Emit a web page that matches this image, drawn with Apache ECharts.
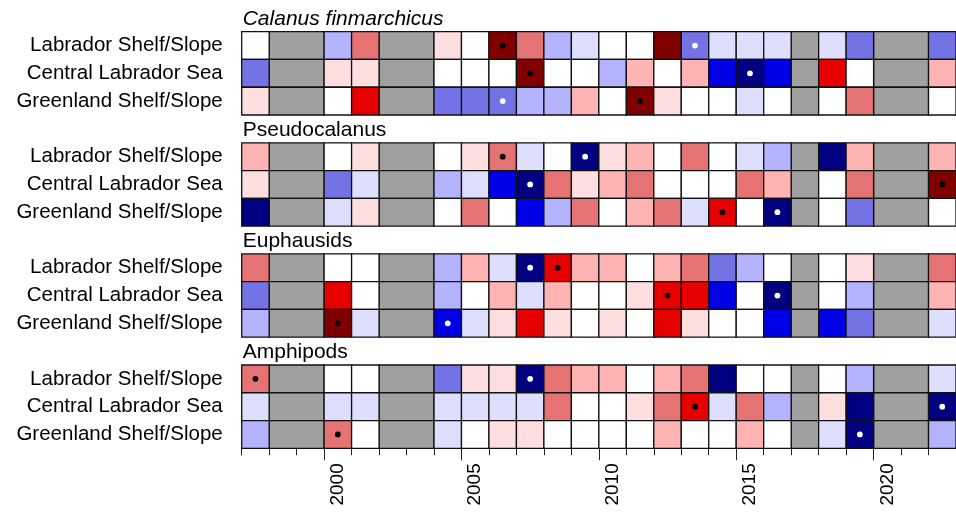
<!DOCTYPE html>
<html>
<head>
<meta charset="utf-8">
<script src="https://cdn.jsdelivr.net/npm/echarts@6/dist/echarts.min.js"></script>
<style>
  html, body { margin: 0; padding: 0; background: #ffffff; }
  #chart { width: 956px; height: 512px; }
</style>
</head>
<body>
<div id="chart"></div>
<script>
// Survey years (one column per year); null = no survey that year
const years = [1997, 1998, 1999, 2000, 2001, 2002, 2003, 2004, 2005, 2006, 2007, 2008, 2009,
               2010, 2011, 2012, 2013, 2014, 2015, 2016, 2017, 2018, 2019, 2020, 2021, 2022];

const regions = ['Labrador Shelf/Slope', 'Central Labrador Sea', 'Greenland Shelf/Slope'];
const taxa = ['Calanus finmarchicus', 'Pseudocalanus', 'Euphausids', 'Amphipods'];
const taxonItalic = [true, false, false, false];

// Standardized abundance anomalies, one row per region
const calanusAnomaly = [
  [0.1, null, null, -1.2, 1.7, null, null, 0.7, 0.2, 2.8, 1.7, -1.2, -0.7, -0.2, 0.3, 2.7, -1.8, -0.8, -0.6, -0.7, null, -0.8, -1.7, null, null, -1.8],
  [-1.7, null, null, 0.6, 0.8, null, null, 0.1, -0.3, 0.2, 3.1, 0.0, -0.1, -1.3, 1.2, 0.4, 1.1, -2.3, -2.9, -2.2, null, 2.3, -0.2, null, null, 1.3],
  [0.6, null, null, 0.3, 2.2, null, null, -1.6, -1.8, -1.9, -1.1, -1.4, 1.1, -0.1, 2.9, 0.7, 0.2, -0.3, -0.6, 0.1, null, 0.4, 1.8, null, null, -0.2]
];
const pseudocalanusAnomaly = [
  [1.3, null, null, 0.2, 0.8, null, null, -0.1, 0.6, 1.9, -0.7, 0.3, -2.7, 0.9, 1.2, -0.4, 1.6, 0.0, -0.8, -1.1, null, -2.6, 1.4, null, null, 1.2],
  [0.7, null, null, -1.7, -0.9, null, null, -1.2, -0.6, -2.4, -3.0, 1.6, 0.8, 1.3, 1.8, 0.3, -0.2, 0.1, 1.7, 1.1, null, -0.3, 1.9, null, null, 2.8],
  [-2.6, null, null, -0.7, 0.6, null, null, 0.2, 1.7, -0.1, -2.1, -1.2, 1.6, 0.4, 1.2, 1.8, -0.9, 2.4, 0.1, -2.8, null, -0.4, -1.6, null, null, 0.0]
];
const euphausidAnomaly = [
  [1.8, null, null, 0.1, -0.3, null, null, -1.3, 1.2, -0.8, -2.7, 2.3, 1.3, 1.1, -0.2, 1.4, 1.7, -1.6, -1.2, 0.2, null, -0.1, 0.7, null, null, 1.8],
  [-1.8, null, null, 2.3, 0.2, null, null, -1.1, 0.0, 1.2, -0.6, 1.4, -0.3, 0.1, 0.8, 2.4, 2.2, -2.2, 0.3, -2.9, null, -0.2, -1.3, null, null, 1.1],
  [-1.3, null, null, 2.7, -0.8, null, null, -2.3, -0.6, 0.9, 2.1, 0.7, 0.4, 0.6, -0.1, 2.2, 0.8, 0.0, 0.3, -2.1, null, -2.2, -1.7, null, null, -0.9]
];
const amphipodAnomaly = [
  [1.9, null, null, 0.2, -0.1, null, null, -1.7, 0.6, 0.9, -2.8, 1.6, 1.3, 1.2, 0.0, 1.4, 1.8, -2.6, -0.3, 0.1, null, 0.4, -1.1, null, null, -0.7],
  [-0.7, null, null, -0.6, -0.8, null, null, -0.9, -0.6, -0.7, -0.8, 1.7, 0.2, -0.1, 0.7, 1.6, 2.2, -0.6, 1.8, -1.2, null, 0.6, -2.6, null, null, -2.9],
  [-1.2, null, null, 1.8, 0.3, null, null, -0.7, 0.1, 0.8, 0.6, -0.2, 0.0, 0.2, -0.4, 1.1, 0.3, -0.1, 1.3, 0.4, null, -0.7, -2.8, null, null, -1.3]
];

// Years of the series maximum and minimum, flagged with a dot
const calanusExtremes = [[2006, 2013], [2007, 2015], [2006, 2011]];
const pseudocalanusExtremes = [[2006, 2009], [2007, 2022], [2014, 2016]];
const euphausidExtremes = [[2007, 2008], [2012, 2016], [2000, 2004]];
const amphipodExtremes = [[1997, 2007], [2013, 2022], [2000, 2019]];

const labelledYears = [2000, 2005, 2010, 2015, 2020];

// Anomaly classes: strong negative (dark blue) ... strong positive (dark red)
const anomalyBreaks = [-2.5, -2, -1.5, -1, -0.5, 0.5, 1, 1.5, 2, 2.5];
const anomalyColors = ['#000080', '#0000e6', '#7373e6', '#b3b3ff', '#dedeff', '#ffffff',
                       '#ffdee0', '#ffb3b3', '#e57373', '#e60000', '#800000'];
const missingColor = '#a0a0a0';

const anomalyTables = [calanusAnomaly, pseudocalanusAnomaly, euphausidAnomaly, amphipodAnomaly];
const extremeTables = [calanusExtremes, pseudocalanusExtremes, euphausidExtremes, amphipodExtremes];

// y categories: a blank heading row above each group of three regions
const rowLabels = [];
taxa.forEach(() => { rowLabels.push(''); regions.forEach(r => rowLabels.push(r)); });

const cellData = [];
const missingData = [];
const headingData = [];
anomalyTables.forEach((table, g) => {
  headingData.push([years[0], g * 4, g]);
  table.forEach((row, r) => {
    const rowIndex = g * 4 + 1 + r;
    let runStart = null;
    row.forEach((v, i) => {
      if (v === null) {
        if (runStart === null) runStart = years[i];
      } else {
        if (runStart !== null) { missingData.push([runStart, years[i], rowIndex]); runStart = null; }
        const flagged = extremeTables[g][r].indexOf(years[i]) >= 0 ? 1 : 0;
        cellData.push([years[i], rowIndex, v, flagged]);
      }
    });
    if (runStart !== null) missingData.push([runStart, years[years.length - 1] + 1, rowIndex]);
  });
});

const pieces = [];
for (let i = 0; i < anomalyColors.length; i++) {
  const p = { color: anomalyColors[i] };
  if (i > 0) { if (anomalyBreaks[i - 1] < 0) p.gte = anomalyBreaks[i - 1]; else p.gt = anomalyBreaks[i - 1]; }
  if (i < anomalyBreaks.length) { if (anomalyBreaks[i] <= 0) p.lt = anomalyBreaks[i]; else p.lte = anomalyBreaks[i]; }
  pieces.push(p);
}

const fontFamily = '"Liberation Sans", Arial, Helvetica, sans-serif';
const edgeColor = '#111111';
const edgeWidth = 1.3;

function bandRect(api, x0, x1, row) {
  const a = api.coord([x0, row]);
  const b = api.coord([x1, row]);
  const h = api.size([0, 1])[1];
  return { x: a[0], y: a[1] - h / 2, width: b[0] - a[0], height: h };
}

const chart = echarts.init(document.getElementById('chart'), null, { renderer: 'canvas' });
chart.setOption({
  animation: false,
  backgroundColor: '#ffffff',
  grid: { left: 241.7, top: 3.9, width: 721, height: 444.4, containLabel: false },
  visualMap: {
    type: 'piecewise', show: false, dimension: 2, seriesIndex: 1, pieces: pieces
  },
  xAxis: [
    {
      type: 'value', position: 'bottom', min: years[0], max: years[years.length - 1] + 1, interval: 1,
      axisLine: { show: false },
      splitLine: { show: false },
      axisTick: { show: true, length: 7, lineStyle: { color: '#222', width: 1 } },
      axisLabel: {
        show: true, rotate: 90, margin: 15, fontSize: 19, color: '#000', fontFamily: fontFamily,
        customValues: labelledYears.map(y => y + 0.5),
        formatter: v => String(Math.floor(v))
      }
    },
    {
      type: 'value', position: 'bottom', min: years[0], max: years[years.length - 1] + 1,
      axisLine: { show: false },
      splitLine: { show: false },
      axisLabel: { show: false },
      axisTick: { show: true, length: 12, customValues: labelledYears, lineStyle: { color: '#222', width: 1 } }
    }
  ],
  yAxis: {
    type: 'category', inverse: true, data: rowLabels,
    axisLine: { show: false }, axisTick: { show: false }, splitLine: { show: false },
    axisLabel: { margin: 19, fontSize: 20.5, color: '#000', fontFamily: fontFamily, interval: 0 }
  },
  series: [
    {
      type: 'custom', xAxisIndex: 0, data: missingData,
      encode: { x: [0, 1], y: 2 },
      renderItem: (params, api) => ({
        type: 'rect',
        shape: bandRect(api, api.value(0), api.value(1), api.value(2)),
        style: { fill: missingColor, stroke: edgeColor, lineWidth: edgeWidth }
      })
    },
    {
      type: 'custom', xAxisIndex: 0, data: cellData,
      encode: { x: 0, y: 1 },
      renderItem: (params, api) => {
        const x0 = api.value(0), row = api.value(1), v = api.value(2);
        const rect = bandRect(api, x0, x0 + 1, row);
        const children = [{
          type: 'rect', shape: rect,
          style: { fill: api.visual('color'), stroke: edgeColor, lineWidth: edgeWidth }
        }];
        if (api.value(3) === 1) {
          children.push({
            type: 'circle',
            shape: { cx: rect.x + rect.width / 2, cy: rect.y + rect.height / 2, r: 2.9 },
            style: { fill: v > 0 ? '#000000' : '#ffffff' }
          });
        }
        return { type: 'group', children: children };
      }
    },
    {
      type: 'custom', xAxisIndex: 0, data: headingData,
      encode: { x: 0, y: 1 },
      renderItem: (params, api) => {
        const p = api.coord([api.value(0), api.value(1)]);
        const g = api.value(2);
        return {
          type: 'text',
          x: p[0] + 1, y: p[1] + 1,
          style: {
            text: taxa[g], fill: '#000', fontSize: 21, fontFamily: fontFamily,
            fontStyle: taxonItalic[g] ? 'italic' : 'normal',
            textAlign: 'left', textVerticalAlign: 'middle'
          }
        };
      }
    }
  ]
});
</script>
</body>
</html>
